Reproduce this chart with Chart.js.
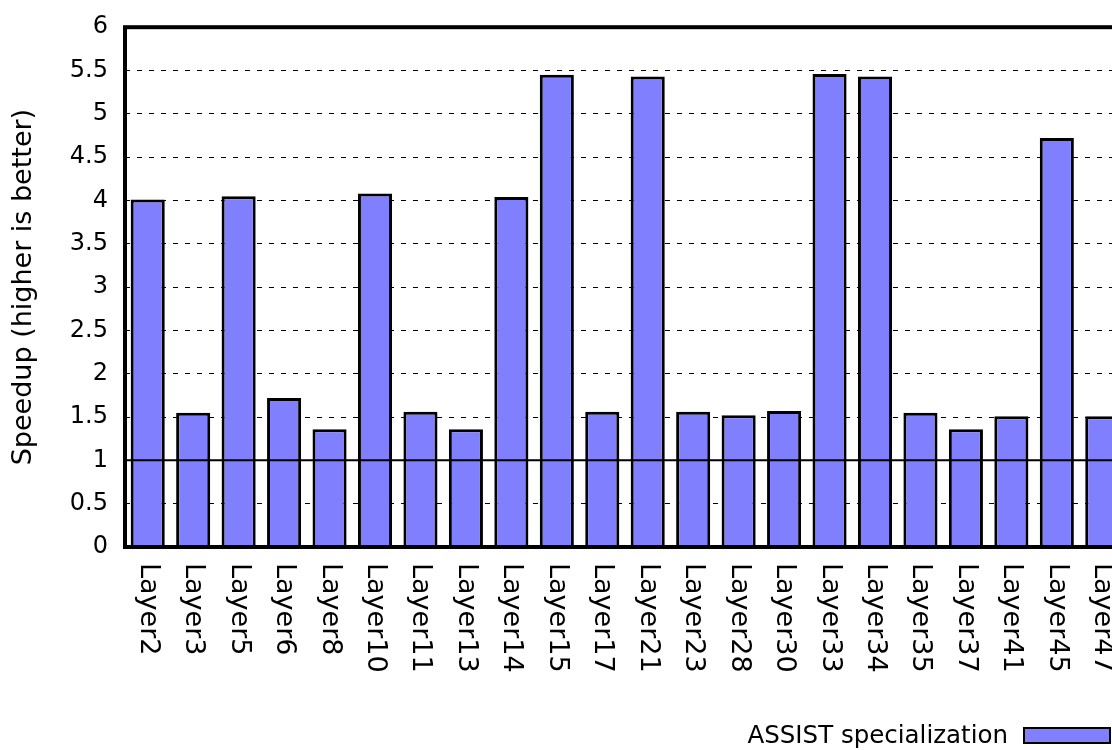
<!DOCTYPE html>
<html>
<head>
<meta charset="utf-8">
<script src="https://cdn.jsdelivr.net/npm/chart.js@4/dist/chart.umd.min.js"></script>
<style>
  html, body { margin: 0; padding: 0; background: #fff; overflow: hidden; }
  #wrap { position: relative; width: 1140px; height: 750px; }
</style>
</head>
<body>
<div id="wrap"><canvas id="chart"></canvas></div>
<script>
/* ── Data ── */
const layers = ['Layer2', 'Layer3', 'Layer5', 'Layer6', 'Layer8', 'Layer10', 'Layer11', 'Layer13',
    'Layer14', 'Layer15', 'Layer17', 'Layer21', 'Layer23', 'Layer28', 'Layer30', 'Layer33',
    'Layer34', 'Layer35', 'Layer37', 'Layer41', 'Layer45', 'Layer47'];
const speedup = [4.01, 1.55, 4.05, 1.72, 1.36, 4.08, 1.56, 1.36,
    4.04, 5.45, 1.56, 5.43, 1.56, 1.52, 1.57, 5.46,
    5.43, 1.55, 1.36, 1.51, 4.72, 1.51];
const seriesName = 'ASSIST specialization';
const yTicks = [0, 0.5, 1, 1.5, 2, 2.5, 3, 3.5, 4, 4.5, 5, 5.5, 6];
const baseline = 1;

const FONT = 'DejaVu Sans';
const FILL = '#8080ff';

/* ── Frame, baseline, x labels, legend ── */
const decor = {
    id: 'decor',
    afterDatasetsDraw(chart) {
        const { ctx, chartArea: a, scales: { x, y } } = chart;
        ctx.save();
        // baseline at 1
        const yb = y.getPixelForValue(baseline);
        ctx.strokeStyle = '#000';
        ctx.lineWidth = 2;
        ctx.beginPath();
        ctx.moveTo(a.left, yb);
        ctx.lineTo(a.right, yb);
        ctx.stroke();
        // frame
        ctx.lineWidth = 4;
        ctx.strokeRect(a.left, a.top, a.right - a.left, a.bottom - a.top);
        // rotated category labels (top to bottom)
        ctx.fillStyle = '#000';
        ctx.font = `27px "${FONT}"`;
        ctx.textAlign = 'left';
        ctx.textBaseline = 'middle';
        layers.forEach((lab, i) => {
            ctx.save();
            ctx.translate(x.getPixelForValue(i), a.bottom + 16);
            ctx.rotate(Math.PI / 2);
            ctx.fillText(lab, 0, 0);
            ctx.restore();
        });
        // legend
        ctx.font = `24.5px "${FONT}"`;
        ctx.textAlign = 'right';
        ctx.fillText(seriesName, 1008, 737);
        ctx.fillStyle = FILL;
        ctx.fillRect(1024, 728, 86, 15);
        ctx.lineWidth = 2;
        ctx.strokeRect(1024, 728, 86, 15);
        ctx.restore();
    }
};

new Chart(document.getElementById('chart'), {
    type: 'bar',
    data: {
        labels: layers,
        datasets: [{
            label: seriesName,
            data: speedup,
            backgroundColor: FILL,
            borderColor: '#000',
            borderWidth: 3,
            barPercentage: 0.75,
            categoryPercentage: 1.0,
        }],
    },
    options: {
        responsive: true, maintainAspectRatio: false,
        animation: false,
        layout: { padding: { top: 23, right: 15, left: 0, bottom: 0 } },
        plugins: { legend: { display: false }, tooltip: { enabled: false } },
        scales: {
            x: {
                grid: { display: false },
                border: { display: false },
                ticks: { display: false },
                afterFit: (s) => { s.height = 203; },
            },
            y: {
                min: 0, max: 6,
                afterBuildTicks: (s) => { s.ticks = yTicks.map(v => ({ value: v })); },
                grid: { color: '#000', lineWidth: 1, drawTicks: false },
                border: { display: false, dash: [5, 7] },
                ticks: { color: '#000', padding: 17, font: { family: FONT, size: 24, lineHeight: 0.85 },
                         callback: (v) => String(v) },
                title: { display: true, text: 'Speedup (higher is better)', color: '#000',
                         font: { family: FONT, size: 27 }, padding: { top: 8, bottom: 0 } },
                afterFit: (s) => { s.width = 125; },
            },
        },
    },
    plugins: [decor],
});
</script>
</body>
</html>
